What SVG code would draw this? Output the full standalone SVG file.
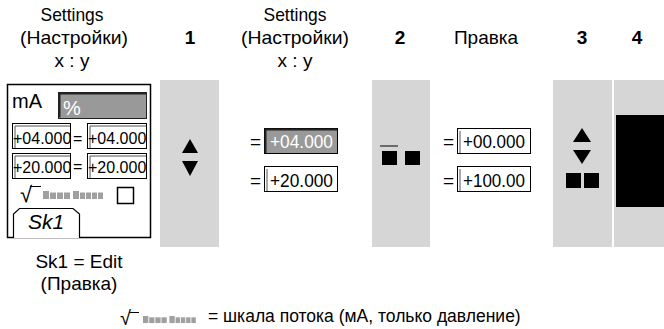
<svg xmlns="http://www.w3.org/2000/svg" width="664" height="329" viewBox="0 0 664 329">
<style>
text{font-family:"Liberation Sans",Arial,sans-serif;fill:#000}
.h{font-size:19px;text-anchor:middle}
.b{font-weight:bold}
.f{font-size:16px}
.F{font-size:18px}
.e{font-size:19px}
.col{fill:#d6d6d6}
.fld{fill:#fff;stroke:#000;stroke-width:1}
.in{fill:none;stroke:#555;stroke-width:1}
.bar{fill:#a0a0a0}
</style>
<defs>
<g id="bars">
<rect class="bar" x="0" y="0" width="6" height="8"/>
<rect class="bar" x="7" y="1.5" width="6" height="6.5"/>
<rect class="bar" x="14" y="1.5" width="6" height="6.5"/>
<rect class="bar" x="21" y="1.5" width="6" height="6.5"/>
<rect class="bar" x="30" y="0" width="6" height="8"/>
<rect class="bar" x="37" y="1.5" width="5" height="6.5"/>
<rect class="bar" x="43" y="1.5" width="5" height="6.5"/>
<rect class="bar" x="49" y="1.5" width="5" height="6.5"/>
<rect class="bar" x="55" y="1.5" width="5" height="6.5"/>
</g>
</defs>
<g id="headers">
<text class="h" x="72" y="21" textLength="63" lengthAdjust="spacingAndGlyphs">Settings</text>
<text class="h" x="74" y="44" textLength="108" lengthAdjust="spacingAndGlyphs">(Настройки)</text>
<text class="h" x="72" y="67">x : y</text>
<text class="h b" x="190" y="44">1</text>
<text class="h" x="295" y="21" textLength="63" lengthAdjust="spacingAndGlyphs">Settings</text>
<text class="h" x="295" y="44" textLength="108" lengthAdjust="spacingAndGlyphs">(Настройки)</text>
<text class="h" x="295" y="67">x : y</text>
<text class="h b" x="400" y="44">2</text>
<text class="h" x="486" y="44">Правка</text>
<text class="h b" x="582" y="44">3</text>
<text class="h b" x="637" y="44">4</text>
</g>
<g id="panel">
<rect x="7.5" y="84.5" width="143" height="153" fill="#fff" stroke="#000" stroke-width="1.5"/>
<text x="12" y="108" style="font-size:20px">mA</text>
<rect x="58.5" y="92.5" width="88" height="26" fill="#999" stroke="#222" stroke-width="1"/>
<path d="M59.5,117.5 V93.5 H146" fill="none" stroke="#222" stroke-width="2"/>
<text x="63" y="115" style="font-size:20px;fill:#fff">%</text>
<rect class="fld" x="12.5" y="123.5" width="58" height="25"/>
<path class="in" d="M15,148 V126 H70"/>
<text x="13" y="144" class="f">+04.000</text>
<text x="73" y="144" style="font-size:16px">=</text>
<rect class="fld" x="87.5" y="123.5" width="59" height="25"/>
<path class="in" d="M90,148 V126 H146"/>
<text x="88" y="144" class="f">+04.000</text>
<rect class="fld" x="12.5" y="153.5" width="58" height="25"/>
<path class="in" d="M15,178 V156 H70"/>
<text x="13" y="173" class="f">+20.000</text>
<text x="73" y="172" style="font-size:16px">=</text>
<rect class="fld" x="87.5" y="153.5" width="59" height="25"/>
<path class="in" d="M90,178 V156 H146"/>
<text x="88" y="173" class="f">+20.000</text>
<text x="20" y="202" style="font-size:22px">√</text>
<line x1="30" y1="186.5" x2="41" y2="186.5" stroke="#000" stroke-width="1"/>
<use href="#bars" x="43" y="191"/>
<rect x="117.5" y="187.5" width="16" height="16" fill="#fff" stroke="#000" stroke-width="1.5"/>
<path d="M13.5,238 V214 L19.5,208.5 H73 L79.5,214 V238" fill="#fff" stroke="#000" stroke-width="1.2"/>
<text x="46" y="229" text-anchor="middle" style="font-size:21px;font-style:italic">Sk1</text>
</g>
<g id="caption">
<text class="h" x="79" y="268">Sk1 = Edit</text>
<text class="h" x="79" y="290">(Правка)</text>
</g>
<g id="col1">
<rect class="col" x="160" y="80" width="59" height="167"/>
<path d="M190,139 L198,153 H182 Z"/>
<path d="M182,161 H198 L190,176 Z"/>
</g>
<g id="step1">
<text x="250" y="148" class="e">=</text>
<rect x="264.5" y="128.5" width="73" height="25" fill="#999" stroke="#000" stroke-width="1"/>
<path d="M265.5,153 V129.5 H337" fill="none" stroke="#222" stroke-width="2"/>
<text x="270" y="148" class="F" textLength="63" lengthAdjust="spacingAndGlyphs" style="fill:#fff">+04.000</text>
<text x="250" y="187" class="e">=</text>
<rect class="fld" x="264.5" y="166.5" width="73" height="25"/>
<path class="in" d="M267,191 V169"/>
<text x="270" y="187" class="F" textLength="63" lengthAdjust="spacingAndGlyphs">+20.000</text>
</g>
<g id="col2">
<rect class="col" x="372" y="80" width="58" height="167"/>
<line x1="380" y1="146" x2="398" y2="146" stroke="#000" stroke-width="1"/>
<rect x="382" y="151" width="15" height="14"/>
<rect x="405" y="151" width="15" height="14"/>
</g>
<g id="step2">
<text x="443" y="148" class="e">=</text>
<rect class="fld" x="457.5" y="128.5" width="73" height="25"/>
<path class="in" d="M460,153 V131"/>
<text x="463" y="148" class="F" textLength="62" lengthAdjust="spacingAndGlyphs">+00.000</text>
<text x="443" y="187" class="e">=</text>
<rect class="fld" x="457.5" y="166.5" width="73" height="25"/>
<path class="in" d="M460,191 V169"/>
<text x="463" y="187" class="F" textLength="62" lengthAdjust="spacingAndGlyphs">+100.00</text>
</g>
<g id="col3">
<rect class="col" x="553" y="80" width="59" height="167"/>
<path d="M582,128 L591,142 H573 Z"/>
<path d="M573,150 H591 L582,164 Z"/>
<rect x="566" y="173" width="15" height="15"/>
<rect x="584" y="173" width="15" height="15"/>
</g>
<g id="col4">
<rect class="col" x="614" y="80" width="50" height="167"/>
<rect x="616" y="115" width="48" height="92"/>
</g>
<g id="legend">
<text x="120" y="325" style="font-size:20px">√</text>
<line x1="129" y1="312.5" x2="139" y2="312.5" stroke="#000" stroke-width="1"/>
<use href="#bars" transform="translate(143,316) scale(0.88)"/>
<text x="208" y="322" style="font-size:17.5px">= шкала потока (мА, только давление)</text>
</g>
</svg>
